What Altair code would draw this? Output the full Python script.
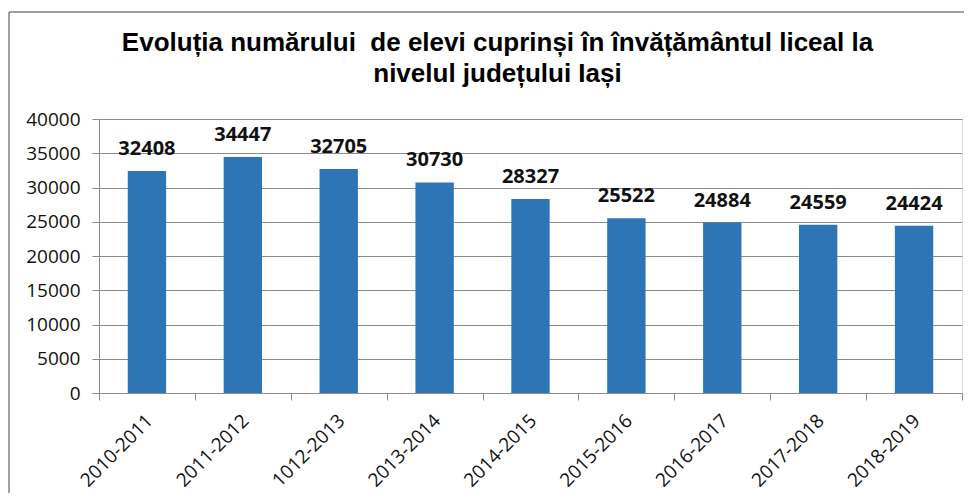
import altair as alt
import pandas as pd

years = ["2010-2011", "2011-2012", "1012-2013", "2013-2014", "2014-2015",
         "2015-2016", "2016-2017", "2017-2018", "2018-2019"]
students = [32408, 34447, 32705, 30730, 28327, 25522, 24884, 24559, 24424]
y_ticks = [0, 5000, 10000, 15000, 20000, 25000, 30000, 35000, 40000]

df = pd.DataFrame({"an": years, "elevi": students})

W, H = 863, 274
GRAY = "#8c8c8c"

x_enc = alt.X(
    "an:N", sort=None, title=None,
    scale=alt.Scale(paddingInner=0, paddingOuter=0),
    axis=alt.Axis(
        labelAngle=-45, labelAlign="right", labelBaseline="top",
        labelOffset=-4, labelPadding=11, tickBand="extent", tickSize=7,
        domainColor=GRAY, tickColor=GRAY, labelFont="Open Sans",
        labelFontSize=19, labelColor="#111111", grid=False,
    ),
)
y_enc = alt.Y(
    "elevi:Q", title=None,
    scale=alt.Scale(domain=[0, 40000], nice=False),
    axis=alt.Axis(
        values=y_ticks, format="d", tickSize=7, labelPadding=12,
        domainColor=GRAY, tickColor=GRAY, gridColor=GRAY, grid=True,
        labelFont="Open Sans", labelFontSize=19, labelColor="#111111",
        labelOverlap=False,
    ),
)

bars = alt.Chart(df).mark_bar(width={"band": 0.4}, color="#2E75B6").encode(x=x_enc, y=y_enc)
labels = alt.Chart(df).mark_text(
    font="Open Sans", fontSize=20, fontWeight="bold", color="#111111",
    baseline="alphabetic", dy=-16,
).encode(x=x_enc, y=y_enc, text="elevi:Q")

border_df = pd.DataFrame({"k": [0]})
top_line = alt.Chart(border_df).mark_rule(color="#808080", strokeWidth=1.5).encode(
    x=alt.value(-90), x2=alt.value(W + 3), y=alt.value(-107))
left_line = alt.Chart(border_df).mark_rule(color="#808080", strokeWidth=1.5).encode(
    x=alt.value(-90), y=alt.value(-107), y2=alt.value(H + 100))

chart = alt.layer(top_line, left_line, bars, labels).properties(
    width=W, height=H,
    autosize=alt.AutoSizeParams(type="none"),
    padding={"left": 91, "top": 111, "right": 2, "bottom": 100},
    title=alt.TitleParams(
        ["Evoluția numărului\u00a0 de elevi cuprinși în învățământul liceal la",
         "nivelul județului Iași"],
        font="Liberation Sans", fontSize=26, fontWeight="bold", color="#000000",
        lineHeight=31, anchor="middle", dx=-33, dy=96, offset=20,
    ),
).configure_view(stroke=None).configure(background="white")

chart.save("out.html", embed_options={"renderer": "svg", "actions": False})
